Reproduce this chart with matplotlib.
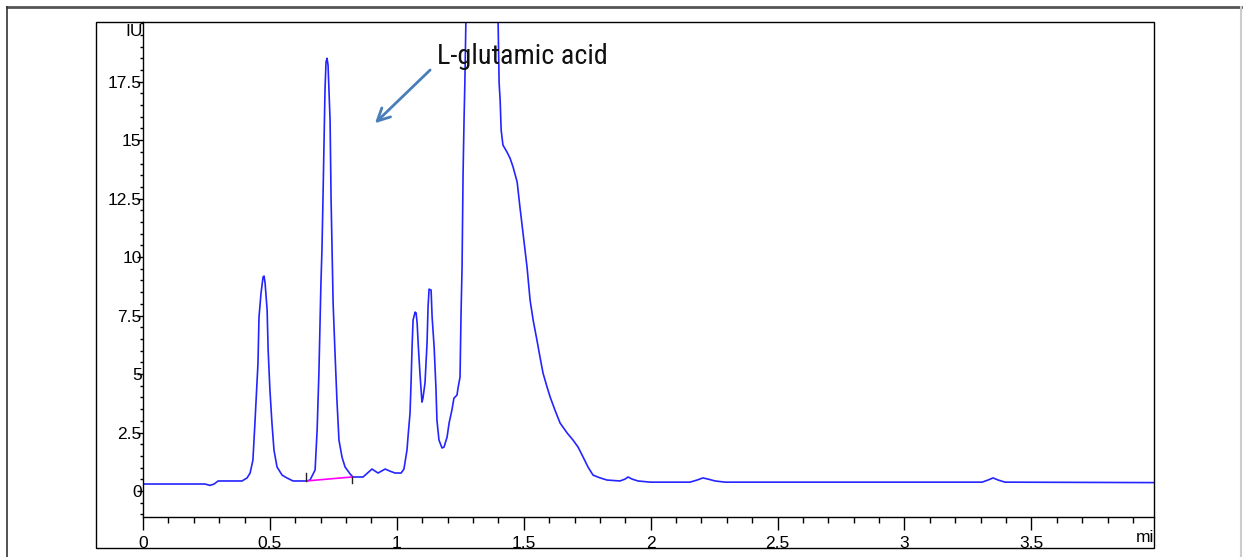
import matplotlib
matplotlib.use("Agg")
import matplotlib.pyplot as plt
from matplotlib.lines import Line2D
from matplotlib.patches import Rectangle
from matplotlib.ticker import MultipleLocator

# ---- data (retention time in min, detector signal) ----
time_min = [0.000, 0.185, 0.244, 0.264, 0.280, 0.296, 0.390, 0.410, 0.422, 0.433,
            0.441, 0.453, 0.457, 0.465, 0.473, 0.477, 0.481, 0.489, 0.493, 0.500,
            0.508, 0.516, 0.528, 0.548, 0.567, 0.591, 0.646, 0.658, 0.678, 0.686,
            0.693, 0.701, 0.705, 0.709, 0.717, 0.721, 0.725, 0.729, 0.737, 0.741,
            0.745, 0.749, 0.756, 0.764, 0.772, 0.784, 0.796, 0.816, 0.827, 0.867,
            0.902, 0.926, 0.954, 0.973, 0.993, 1.017, 1.028, 1.040, 1.044, 1.052,
            1.056, 1.060, 1.064, 1.072, 1.076, 1.080, 1.084, 1.091, 1.099, 1.103,
            1.111, 1.119, 1.123, 1.127, 1.135, 1.139, 1.147, 1.154, 1.158, 1.166,
            1.178, 1.186, 1.198, 1.206, 1.217, 1.225, 1.237, 1.241, 1.249, 1.253,
            1.257, 1.261, 1.265, 1.268, 1.272, 1.280, 1.335, 1.391, 1.399, 1.403,
            1.407, 1.411, 1.418, 1.434, 1.446, 1.458, 1.474, 1.485, 1.497, 1.513,
            1.525, 1.537, 1.552, 1.564, 1.576, 1.592, 1.604, 1.623, 1.643, 1.671,
            1.694, 1.714, 1.734, 1.753, 1.773, 1.801, 1.828, 1.879, 1.899, 1.911,
            1.927, 1.950, 1.998, 2.155, 2.183, 2.206, 2.226, 2.254, 2.293, 3.306,
            3.329, 3.349, 3.369, 3.396, 3.983]
signal = [0.30, 0.30, 0.30, 0.24, 0.30, 0.43, 0.43, 0.56, 0.77, 1.32,
          2.91, 5.47, 7.44, 8.46, 9.15, 9.19, 8.89, 7.74, 6.03, 4.32,
          2.91, 1.75, 1.03, 0.68, 0.56, 0.43, 0.43, 0.47, 0.90, 2.61,
          5.04, 8.89, 10.30, 12.44, 17.14, 18.33, 18.50, 18.21, 15.85, 12.44,
          10.30, 8.03, 6.03, 3.89, 2.18, 1.45, 1.03, 0.73, 0.60, 0.60,
          0.94, 0.77, 0.94, 0.85, 0.77, 0.77, 0.94, 1.75, 2.31, 3.33,
          4.62, 6.15, 7.31, 7.65, 7.61, 7.18, 6.32, 5.04, 3.80, 3.97,
          4.62, 6.32, 7.86, 8.63, 8.59, 7.44, 6.15, 4.44, 3.03, 2.18,
          1.84, 1.88, 2.31, 2.91, 3.46, 3.97, 4.10, 4.40, 4.87, 7.61,
          9.57, 13.59, 15.98, 17.44, 20.00, 25.30, 32.00, 25.30, 20.00, 17.44,
          16.71, 15.43, 14.79, 14.49, 14.23, 13.85, 13.21, 12.14, 11.03, 9.57,
          8.16, 7.31, 6.45, 5.73, 5.04, 4.44, 4.02, 3.46, 2.91, 2.48,
          2.18, 1.88, 1.45, 1.03, 0.68, 0.56, 0.47, 0.43, 0.51, 0.60,
          0.51, 0.43, 0.38, 0.38, 0.47, 0.56, 0.51, 0.43, 0.38, 0.38,
          0.47, 0.56, 0.47, 0.38, 0.36]

# integration baseline of the second peak
peak_base_t = [0.642, 0.823]
peak_base_v = [0.43, 0.60]

x_ticks = [0, 0.5, 1, 1.5, 2, 2.5, 3, 3.5]
x_labels = ["0", "0.5", "1", "1.5", "2", "2.5", "3", "3.5"]
y_ticks = [0, 2.5, 5, 7.5, 10, 12.5, 15, 17.5]
y_labels = ["0", "2.5", "5", "7.5", "10", "12.5", "15", "17.5"]

W, H = 1243, 557
fig = plt.figure(figsize=(W / 100, H / 100), dpi=100)

def fx(px):
    return px / W

def fy(py):
    return 1 - py / H

# outer frame
fig.add_artist(Line2D([fx(7), fx(1241)], [fy(7), fy(7)], color="#555555", lw=2.0))
fig.add_artist(Line2D([fx(7), fx(7)], [fy(7), fy(557)], color="#333333", lw=1.2))
fig.add_artist(Line2D([fx(1241), fx(1241)], [fy(7), fy(557)], color="#cccccc", lw=1.5))
# inner box
fig.add_artist(Rectangle((fx(96), fy(548)), fx(1154) - fx(96), fy(22) - fy(548),
                         fill=False, edgecolor="black", lw=1.0))

ax = fig.add_axes([fx(143), fy(517), fx(1154) - fx(143), fy(22) - fy(517)])
ax.set_xlim(0, 3.983)
ax.set_ylim(-1.11, 20.05)

ax.plot(time_min, signal, color="#2424ff", lw=1.2)
ax.plot(peak_base_t, peak_base_v, color="#ff00ff", lw=1.2)
ax.plot([peak_base_t[0], peak_base_t[0]], [0.43, 0.75], color="#222222", lw=1.0)
ax.plot([peak_base_t[1], peak_base_t[1]], [0.60, 0.33], color="#222222", lw=1.0)

for s in ["top", "right"]:
    ax.spines[s].set_visible(False)
ax.spines["left"].set_linewidth(1.0)
ax.spines["bottom"].set_linewidth(1.0)

ax.set_xticks(x_ticks)
ax.set_xticklabels(x_labels)
ax.set_yticks(y_ticks)
ax.set_yticklabels(y_labels)
ax.xaxis.set_minor_locator(MultipleLocator(0.1))
ax.yaxis.set_minor_locator(MultipleLocator(0.5))
ax.tick_params(axis="x", which="major", length=9, width=1, direction="out", pad=5,
               labelsize=12.5)
ax.tick_params(axis="x", which="minor", length=4, width=1, direction="out")
ax.tick_params(axis="y", which="major", length=4, width=1, direction="out", pad=-3,
               labelsize=12.5)
ax.tick_params(axis="y", which="minor", length=2, width=1, direction="out")
for lab in ax.get_xticklabels() + ax.get_yticklabels():
    lab.set_fontfamily(["Liberation Sans", "DejaVu Sans"])

fig.text(fx(143), fy(31), "IU", ha="right", va="center", fontsize=12.5,
         family=["Liberation Sans", "DejaVu Sans"])
fig.text(fx(1154), fy(537), "mi", ha="right", va="center", fontsize=12.5,
         family=["Liberation Sans", "DejaVu Sans"])

ax.annotate("", xy=(0.906, 15.64), xytext=(1.139, 18.08),
            arrowprops=dict(arrowstyle="->,head_length=0.9,head_width=0.45",
                            color="#4a7ebb", lw=2))
fig.text(fx(437), fy(64), "L-glutamic acid", ha="left", va="baseline", fontsize=20.3,
         color="#111111",
         family=["Roboto Condensed", "Liberation Sans Narrow", "DejaVu Sans"])

fig.savefig("out.png", dpi=100)
